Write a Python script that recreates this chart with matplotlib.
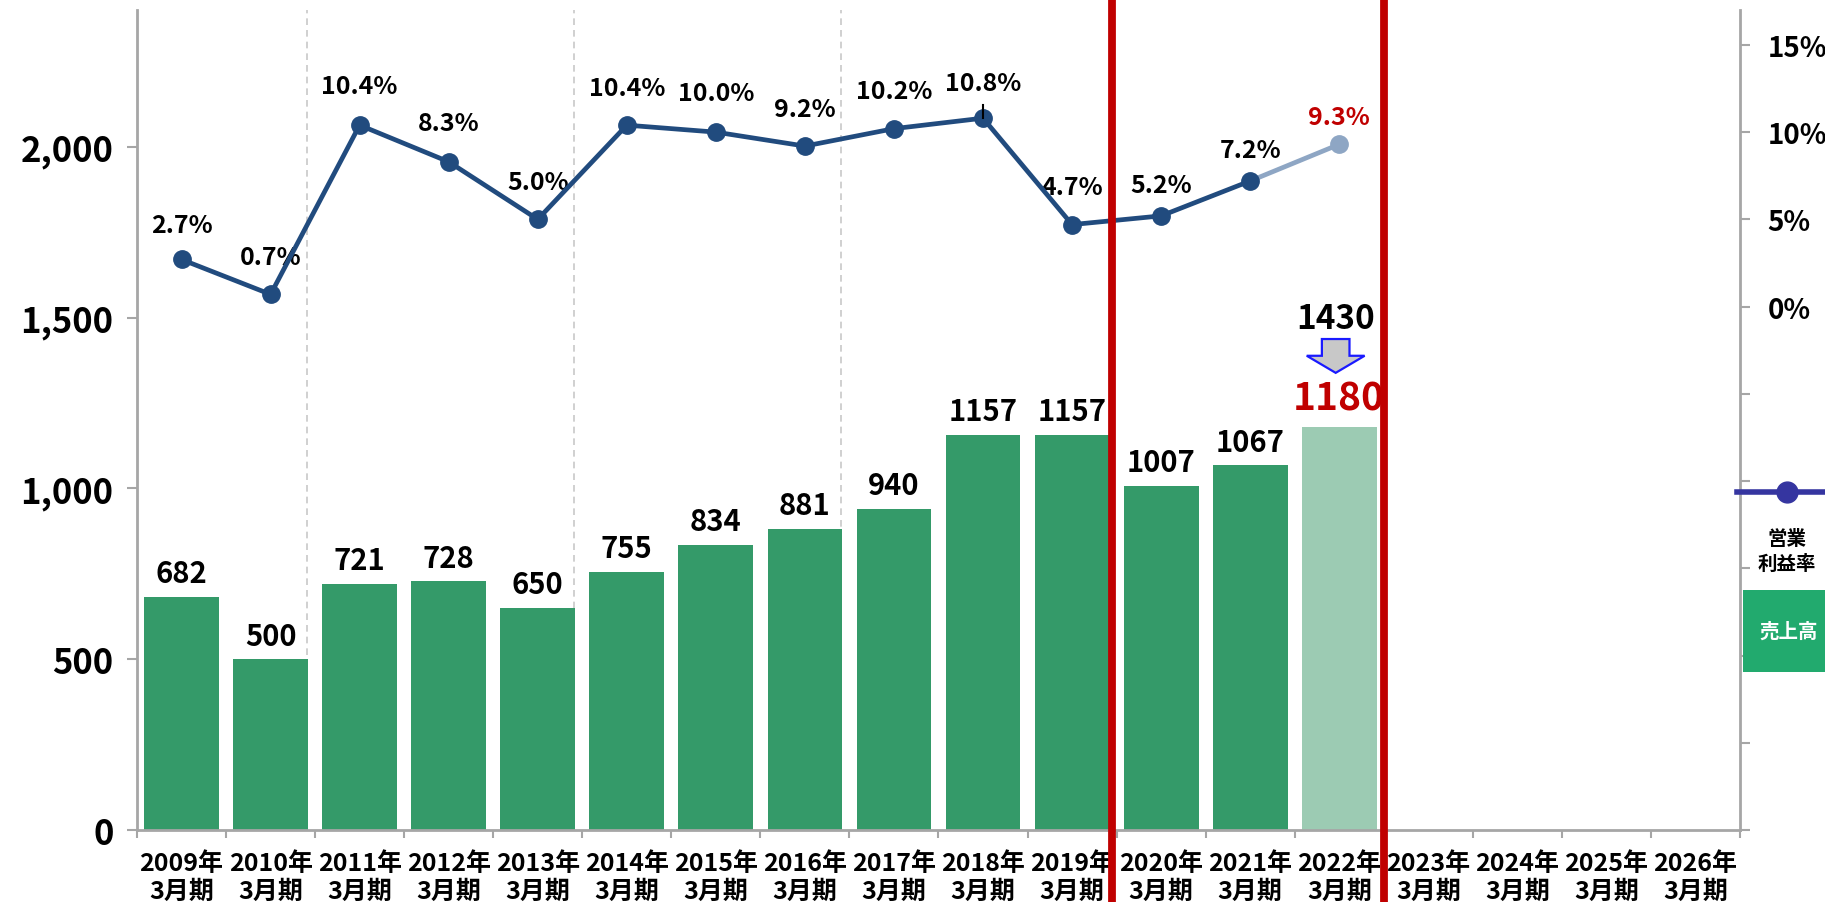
import numpy as np
import matplotlib
matplotlib.use("Agg")
import matplotlib.pyplot as plt
from matplotlib.lines import Line2D
from matplotlib.patches import Rectangle

plt.rcParams['font.family'] = ['Noto Sans CJK JP', 'DejaVu Sans']

# ---- data ----
years = ["2009", "2010", "2011", "2012", "2013", "2014", "2015", "2016", "2017",
         "2018", "2019", "2020", "2021", "2022", "2023", "2024", "2025", "2026"]
sales = [682, 500, 721, 728, 650, 755, 834, 881, 940, 1157, 1157, 1007, 1067, 1180]
margin = [2.7, 0.7, 10.4, 8.3, 5.0, 10.4, 10.0, 9.2, 10.2, 10.8, 4.7, 5.2, 7.2, 9.3]
forecast_2022 = 1430
left_ticks = [0, 500, 1000, 1500, 2000]
right_ticks = [-30, -25, -20, -15, -10, -5, 0, 5, 10, 15]

xlabels = [f"{y}年\n3月期" for y in years]

GREEN = '#349a69'
GREEN_L = '#9ccbb3'
BLUE = '#214b7e'
BLUE_L = '#8ea6c4'
RED = '#c00000'
GRAY = '#a6a6a6'

fig = plt.figure(figsize=(18.25, 9.03), dpi=100)
ax = fig.add_axes([0.07507, 0.07973, 0.87835, 0.90809])
ax2 = ax.twinx()

n = len(years)
x = np.arange(n)
xs = np.arange(len(sales))

# bars
colors = [GREEN] * (len(sales) - 1) + [GREEN_L]
ax.bar(xs, sales, width=0.84, color=colors, zorder=2)
ax.set_xlim(-0.5, n - 0.5)
ax.set_ylim(0, 2400)

# bar labels
for i, v in enumerate(sales[:-1]):
    ax.annotate(str(v), (i, v), xytext=(0, 17), textcoords='offset points',
                ha='center', va='center', fontsize=21, fontweight='bold', color='black')
i_last = len(sales) - 1
ax.annotate(str(sales[-1]), (i_last, sales[-1]), xytext=(0, 21), textcoords='offset points',
            ha='center', va='center', fontsize=28, color=RED, fontweight='bold')
ax.annotate(str(forecast_2022), (i_last - 0.04, sales[-1]), xytext=(0, 78), textcoords='offset points',
            ha='center', va='center', fontsize=24, color='black', fontweight='bold')
# down arrow (gray with blue outline)
ax.arrow(i_last - 0.04, sales[-1] + 257, 0, -99, width=0.31, head_width=0.65, head_length=50,
         length_includes_head=True, fc='#c8c8c8', ec='#1a1aff', lw=1.6, zorder=5)

# dashed vertical helper lines
for xv in [1.41, 4.41, 7.41]:
    ax.axvline(xv, color='#c8c8c8', lw=1.2, ls=(0, (4, 3)), zorder=1)

# ticks x
ax.set_xticks(np.arange(-0.5, n, 1.0))
ax.set_xticklabels([])
ax.set_xticks(x, minor=True)
ax.set_xticklabels(xlabels, minor=True, fontsize=18, fontweight='bold', linespacing=1.22)
ax.tick_params(axis='x', which='major', length=6, width=1.5, color=GRAY, direction='out')
ax.tick_params(axis='x', which='minor', length=0, pad=15)

# left y
ax.set_yticks(left_ticks)
ax.set_yticklabels([f"{v:,}" for v in left_ticks], fontsize=25, fontweight='bold')
ax.tick_params(axis='y', length=7, width=1.5, color=GRAY, pad=10)

for s in ['top', 'right']:
    ax.spines[s].set_visible(False)
for s in ['left', 'bottom']:
    ax.spines[s].set_color(GRAY)
    ax.spines[s].set_linewidth(2)

# line on right axis
ax2.set_ylim(-30, 17)
ax2.plot(xs[:-1], margin[:-1], color=BLUE, lw=3.4, marker='o', ms=12.5, zorder=4)
ax2.plot(xs[-2:], margin[-2:], color=BLUE_L, lw=3.4, zorder=3)
ax2.plot(xs[-1:], margin[-1:], color=BLUE_L, marker='o', ms=12.5, lw=0, zorder=3)
# small mark above 2018 point
i18 = years.index("2018")
ax2.plot([i18, i18], [margin[i18], margin[i18] + 0.75], color='black', lw=1.5, zorder=5)

label_dy = [25, 27, 28, 28, 27, 27, 28, 27, 27, 25, 27, 22, 22, 20]
for i, v in enumerate(margin):
    c = RED if i == len(margin) - 1 else 'black'
    ax2.annotate(f"{v:.1f}%", (i, v), xytext=(0, label_dy[i]), textcoords='offset points',
                 ha='center', va='center', fontsize=18, fontweight='bold', color=c)

ax2.set_yticks(right_ticks)
ax2.set_yticklabels([f"{v}%" if v >= 0 else "" for v in right_ticks], fontsize=20, fontweight='bold')
ax2.tick_params(axis='y', length=7, width=1.5, color=GRAY, pad=13)
for s in ['top', 'left', 'bottom']:
    ax2.spines[s].set_visible(False)
ax2.spines['right'].set_color(GRAY)
ax2.spines['right'].set_linewidth(2)

# red vertical separators
for xv in [10.45, 13.5]:
    ax2.axvline(xv, ymin=-0.1, ymax=1.03, color=RED, lw=5.6, clip_on=False, zorder=10)

# legend (custom, right side)
def fx(px):
    return px / 1825.0

def fy(py):
    return 1 - py / 903.0

fig.add_artist(Line2D([fx(1737), fx(1825)], [fy(493), fy(493)], color='#3535a0', lw=4))
fig.add_artist(Line2D([fx(1787)], [fy(493)], color='#3535a0', marker='o', ms=15, lw=0))
fig.text(fx(1787), fy(552), "営業\n利益率", ha='center', va='center', fontsize=14,
         fontweight='bold', linespacing=1.4)
fig.add_artist(Rectangle((fx(1743), fy(673)), fx(1825) - fx(1743), fy(591) - fy(673),
                         transform=fig.transFigure, color='#22aa6e', lw=0))
fig.text(fx(1789), fy(632), "売上高", ha='center', va='center', fontsize=14,
         fontweight='bold', color='white')

fig.savefig("out.png", dpi=100)
